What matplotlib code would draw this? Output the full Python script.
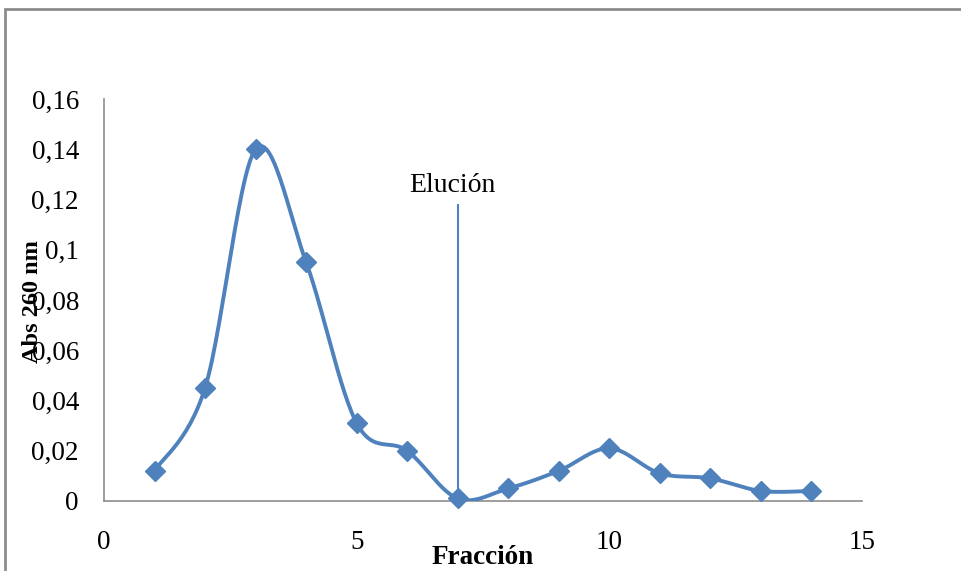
import numpy as np
import matplotlib
matplotlib.use("Agg")
import matplotlib.pyplot as plt
from matplotlib.patches import Rectangle

fraccion = [1, 2, 3, 4, 5, 6, 7, 8, 9, 10, 11, 12, 13, 14]
abs260 = [0.012, 0.045, 0.140, 0.095, 0.031, 0.020, 0.001, 0.005, 0.012, 0.021, 0.011, 0.009, 0.004, 0.004]
xticks = [0, 5, 10, 15]
yticks = [0, 0.02, 0.04, 0.06, 0.08, 0.1, 0.12, 0.14, 0.16]
ytick_labels = ["0", "0,02", "0,04", "0,06", "0,08", "0,1", "0,12", "0,14", "0,16"]
elucion_x = 7
elucion_top = 0.118

color = "#4F81BD"
plt.rcParams['font.family'] = ['Liberation Serif', 'DejaVu Serif']

fig = plt.figure(figsize=(9.61, 5.71), dpi=100)
fig.patches.append(Rectangle((5/961, -0.1), 1.2, 1 - 9/571 + 0.1, transform=fig.transFigure,
                             fill=False, edgecolor="#8c8c8c", linewidth=2))
ax = fig.add_axes([104/961, 1 - 501/571, (862 - 104)/961, (501 - 99)/571])

# Excel-like smoothed line (Catmull-Rom Bezier)
x = np.array(fraccion, float)
y = np.array(abs260, float)
n = len(x)
xs, ys = [], []
t = np.linspace(0, 1, 30)
for i in range(n - 1):
    p0 = np.array([x[i], y[i]])
    p3 = np.array([x[i + 1], y[i + 1]])
    pm = np.array([x[i - 1], y[i - 1]]) if i > 0 else p0
    pp = np.array([x[i + 2], y[i + 2]]) if i + 2 < n else p3
    c1 = p0 + (p3 - pm) / 6
    c2 = p3 - (pp - p0) / 6
    pts = ((1 - t)[:, None] ** 3 * p0 + 3 * ((1 - t) ** 2 * t)[:, None] * c1
           + 3 * ((1 - t) * t ** 2)[:, None] * c2 + (t ** 3)[:, None] * p3)
    xs.extend(pts[:, 0]); ys.extend(pts[:, 1])
ax.plot(xs, ys, color=color, linewidth=2.8, solid_capstyle='round', zorder=3)
ax.plot(x, y, linestyle='none', marker='D', markersize=10, color=color, zorder=4,
        clip_on=False)

ax.plot([elucion_x, elucion_x], [0, elucion_top], color=color, linewidth=1.5, zorder=2)
fig.text(452/961, 1 - 186/571, "Elución", ha='center', va='center', fontsize=20)

ax.set_xlim(0, 15)
ax.set_ylim(0, 0.16)
ax.set_xticks(xticks)
ax.set_xticklabels([str(v) for v in xticks])
ax.set_yticks(yticks)
ax.set_yticklabels(ytick_labels)
ax.tick_params(length=0, labelsize=19.5)
ax.tick_params(axis='y', pad=18)
ax.tick_params(axis='x', pad=21)
for s in ['top', 'right']:
    ax.spines[s].set_visible(False)
for s in ['left', 'bottom']:
    ax.spines[s].set_color('#8c8c8c')
    ax.spines[s].set_linewidth(1.2)

fig.text(33/961, 1 - 302/571, "Abs 260 nm", rotation=90, ha='center', va='center',
         fontsize=17.5, fontweight='bold')
fig.text(483/961, 1 - 558/571, "Fracción", ha='center', va='center',
         fontsize=19.5, fontweight='bold')

fig.savefig("out.png", dpi=100)
